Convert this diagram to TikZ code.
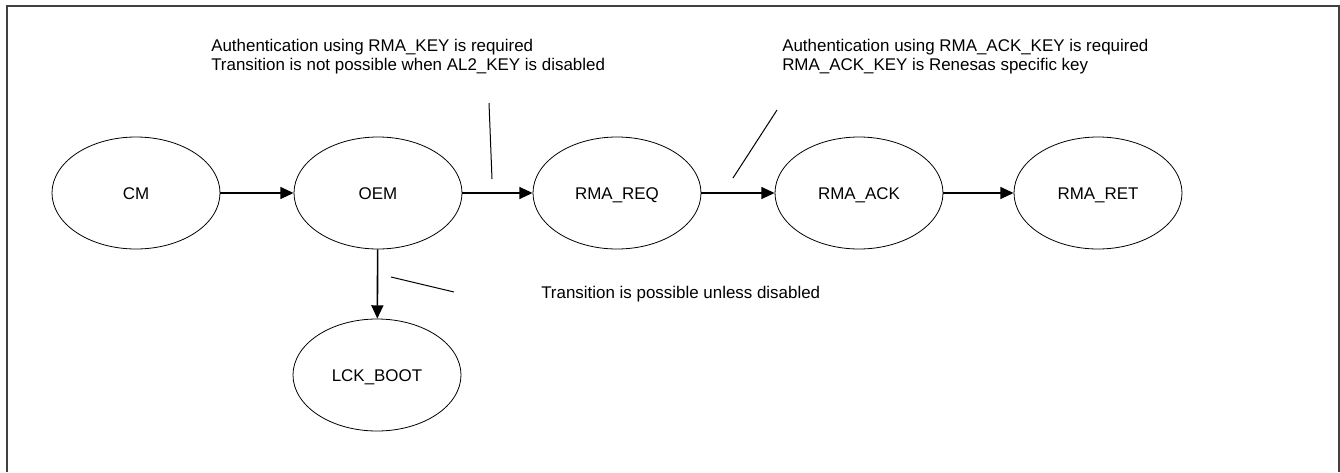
\documentclass[tikz,border=0pt]{standalone}
\usepackage{fontspec}
\setmainfont{Liberation Sans}
\usetikzlibrary{shapes.geometric,arrows.meta}
\begin{document}
\begin{tikzpicture}[x=0.75pt,y=-0.75pt,
  state/.style={draw=black,line width=0.6pt,ellipse,minimum width=126pt,minimum height=84pt,inner sep=0pt,
    font=\fontsize{12.7pt}{14pt}\selectfont,text height=9pt,text depth=0pt},
  trans/.style={draw=black,line width=1.2pt,-{Triangle[length=10pt,width=9pt]}},
  note/.style={font=\fontsize{12.7pt}{13.9pt}\selectfont,align=left,inner sep=0pt,anchor=base west},
  pointer/.style={draw=black,line width=0.75pt},
  framestyle/.style={draw=black!75,line width=1.5pt}]
\useasboundingbox (0,0) rectangle (1340,472);
\draw[framestyle] (6.5,472) -- (6.5,6) -- (1338.5,6) -- (1338.5,472);
% states
\node[state] (cm)  at (136,193) {CM};
\node[state] (oem) at (378,193) {OEM};
\node[state] (req) at (617,193) {RMA\_REQ};
\node[state] (ack) at (859,193) {RMA\_ACK};
\node[state] (ret) at (1098,193) {RMA\_RET};
\node[state] (lck) at (377,375) {LCK\_BOOT};
% transitions
\draw[trans] (cm) -- (oem);
\draw[trans] (oem) -- (req);
\draw[trans] (req) -- (ack);
\draw[trans] (ack) -- (ret);
\draw[trans] (oem) -- (lck);
% notes
\node[note] (n1) at (211,70) {Authentication using RMA\_KEY is required\\Transition is not possible when AL2\_KEY is disabled};
\node[note] (n2) at (782,70) {Authentication using RMA\_ACK\_KEY is required\\RMA\_ACK\_KEY is Renesas specific key};
\node[note] (n3) at (541,298) {Transition is possible unless disabled};
% pointer lines
\coordinate (p1a) at (489,103);
\coordinate (p1b) at (492,179);
\coordinate (p2a) at (777,110);
\coordinate (p2b) at (733,178);
\coordinate (p3a) at (391,277);
\coordinate (p3b) at (454,292);
\draw[pointer] (p1a) -- (p1b);
\draw[pointer] (p2a) -- (p2b);
\draw[pointer] (p3a) -- (p3b);
\end{tikzpicture}
\end{document}
